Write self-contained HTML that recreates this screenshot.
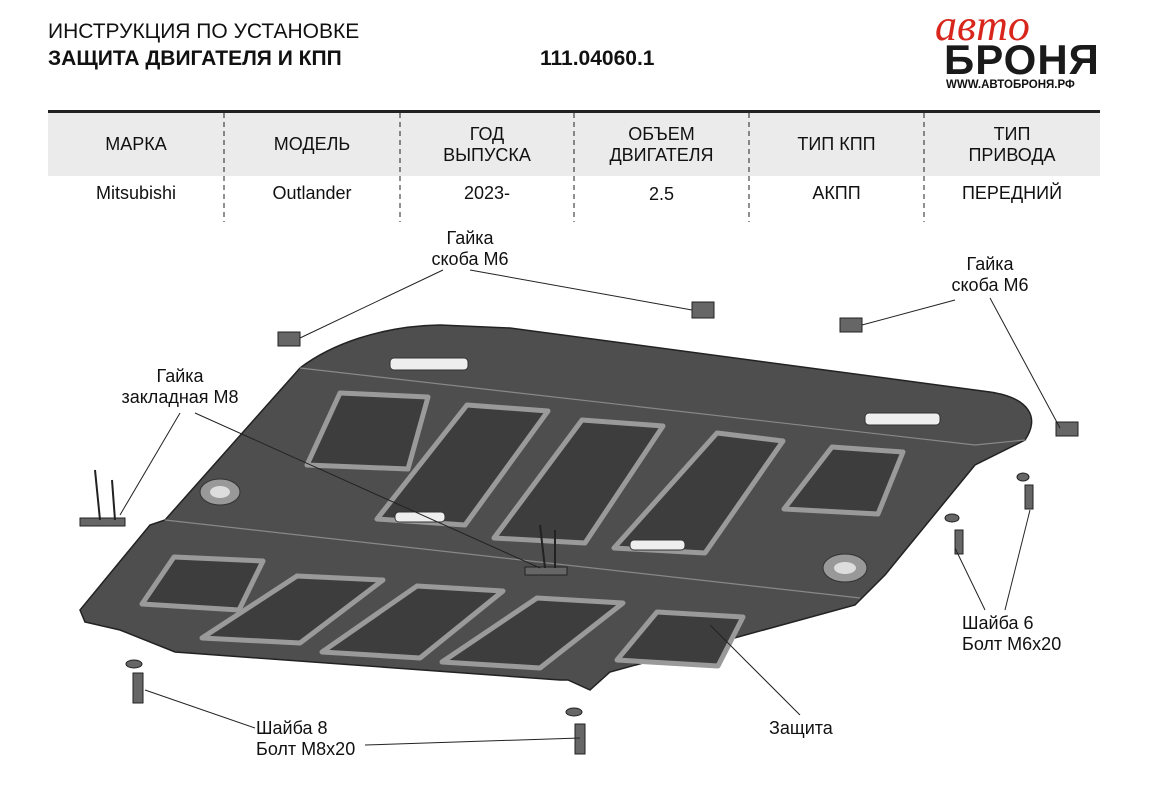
<!DOCTYPE html>
<html><head><meta charset="utf-8"><style>
body{margin:0;width:1151px;height:790px;background:#fff;font-family:"Liberation Sans","DejaVu Sans",sans-serif;position:relative;overflow:hidden}
.t{position:absolute;white-space:nowrap;color:#111}
.c{position:absolute;text-align:center;font-size:18px;line-height:21px;color:#111}
</style></head><body>
<div class="t" style="left:48px;top:20px;font-size:21px">ИНСТРУКЦИЯ ПО УСТАНОВКЕ</div>
<div class="t" style="left:48px;top:47px;font-size:21px;font-weight:bold">ЗАЩИТА ДВИГАТЕЛЯ И КПП</div>
<div class="t" style="left:540px;top:47px;font-size:21px;font-weight:bold">111.04060.1</div>
<div class="t" style="left:935px;top:0px;font-size:44px;color:#d9261c;font-family:'Liberation Serif',serif;font-style:italic">авто</div>
<div class="t" style="left:944px;top:36px;font-size:42px;font-weight:bold;letter-spacing:1px;color:#1a1a1a">БРОНЯ</div>
<div class="t" style="left:946px;top:79px;font-size:11.5px;font-weight:bold">WWW.АВТОБРОНЯ.РФ</div>
<div style="position:absolute;left:48px;top:110px;width:1052px;height:3px;background:#222"></div>
<div style="position:absolute;left:48px;top:113px;width:1052px;height:63px;background:#ebebeb"></div>
<svg style="position:absolute;left:0;top:0" width="1151" height="790">
<g stroke="#222" stroke-width="1" stroke-dasharray="5,4">
<line x1="224" y1="113" x2="224" y2="222"/><line x1="400" y1="113" x2="400" y2="222"/><line x1="574" y1="113" x2="574" y2="222"/><line x1="749" y1="113" x2="749" y2="222"/><line x1="924" y1="113" x2="924" y2="222"/></g>
<path d="M300,368 C330,345 380,326 440,325 L510,328 L990,392 C1030,398 1040,418 1025,440 L975,465 L885,575 L855,605 L610,672 L590,690 L568,680 L560,680 L175,652 L120,630 L85,622 L80,610 L150,525 L165,520 Z" fill="#4e4e4e" stroke="#222" stroke-width="1.5"/>
<path d="M300,368 L975,445 L1025,440" stroke="#888" stroke-width="1.2" fill="none"/>
<path d="M165,520 L860,598" stroke="#888" stroke-width="1.2" fill="none"/>
<g fill="#3d3d3d" stroke="#9a9a9a" stroke-width="5" stroke-linejoin="round">
<path d="M340,393 L428,397 L408,469 L307,465 Z"/>
<path d="M467,405 L548,411 L465,525 L377,519 Z"/>
<path d="M582,420 L663,426 L585,543 L494,538 Z"/>
<path d="M717,433 L783,441 L705,553 L614,548 Z"/>
<path d="M832,447 L903,452 L878,514 L784,509 Z"/>
<path d="M174,557 L263,561 L239,610 L142,604 Z"/>
<path d="M297,576 L383,580 L300,643 L202,638 Z"/>
<path d="M417,586 L503,591 L420,658 L322,652 Z"/>
<path d="M537,598 L623,603 L540,668 L442,662 Z"/>
<path d="M657,612 L743,617 L718,666 L617,660 Z"/>
</g>
<g fill="#eee" stroke="#333"><rect x="390" y="358" width="78" height="12" rx="4"/><rect x="865" y="413" width="75" height="12" rx="4"/><rect x="395" y="512" width="50" height="10" rx="4"/><rect x="630" y="540" width="55" height="10" rx="4"/></g>
<g fill="#999" stroke="#333"><ellipse cx="220" cy="492" rx="20" ry="13"/><ellipse cx="845" cy="568" rx="22" ry="14"/></g>
<g fill="#ddd"><ellipse cx="220" cy="492" rx="10" ry="6"/><ellipse cx="845" cy="568" rx="11" ry="6"/></g>
<g fill="#666" stroke="#222">
<rect x="278" y="332" width="22" height="14"/><rect x="692" y="302" width="22" height="16"/><rect x="840" y="318" width="22" height="14"/><rect x="1056" y="422" width="22" height="14"/>
<rect x="80" y="518" width="45" height="8"/><rect x="525" y="567" width="42" height="8"/>
<ellipse cx="134" cy="664" rx="8" ry="4"/><rect x="133" y="673" width="10" height="30"/>
<ellipse cx="574" cy="712" rx="8" ry="4"/><rect x="575" y="724" width="10" height="30"/>
<ellipse cx="952" cy="518" rx="7" ry="4"/><rect x="955" y="530" width="8" height="24"/>
<ellipse cx="1023" cy="477" rx="6" ry="4"/><rect x="1025" y="485" width="8" height="24"/>
</g>
<g stroke="#222" stroke-width="2"><line x1="95" y1="470" x2="100" y2="520"/><line x1="112" y1="480" x2="115" y2="520"/><line x1="540" y1="525" x2="545" y2="568"/><line x1="555" y1="530" x2="555" y2="568"/></g>
<g stroke="#222" stroke-width="1" fill="none">
<line x1="443" y1="270" x2="300" y2="338"/><line x1="470" y1="270" x2="692" y2="310"/>
<line x1="955" y1="300" x2="862" y2="325"/><line x1="990" y1="298" x2="1060" y2="428"/>
<line x1="180" y1="413" x2="120" y2="515"/><line x1="195" y1="413" x2="540" y2="568"/>
<line x1="955" y1="548" x2="985" y2="610"/><line x1="1030" y1="510" x2="1005" y2="610"/>
<line x1="145" y1="690" x2="255" y2="728"/><line x1="580" y1="738" x2="365" y2="745"/>
<line x1="710" y1="625" x2="800" y2="715"/>
</g>
</svg>
<div class="c" style="left:48px;top:134px;width:176px">МАРКА</div>
<div class="c" style="left:224px;top:134px;width:176px">МОДЕЛЬ</div>
<div class="c" style="left:400px;top:124px;width:174px">ГОД<br>ВЫПУСКА</div>
<div class="c" style="left:574px;top:124px;width:175px">ОБЪЕМ<br>ДВИГАТЕЛЯ</div>
<div class="c" style="left:749px;top:134px;width:175px">ТИП КПП</div>
<div class="c" style="left:924px;top:124px;width:176px">ТИП<br>ПРИВОДА</div>
<div class="c" style="left:48px;top:183px;width:176px">Mitsubishi</div>
<div class="c" style="left:224px;top:183px;width:176px">Outlander</div>
<div class="c" style="left:400px;top:183px;width:174px">2023-</div>
<div class="c" style="left:574px;top:184px;width:175px">2.5</div>
<div class="c" style="left:749px;top:183px;width:175px">АКПП</div>
<div class="c" style="left:924px;top:183px;width:176px">ПЕРЕДНИЙ</div>
<div class="c" style="left:400px;top:228px;width:140px">Гайка<br>скоба М6</div>
<div class="c" style="left:920px;top:254px;width:140px">Гайка<br>скоба М6</div>
<div class="c" style="left:110px;top:366px;width:140px">Гайка<br>закладная М8</div>
<div class="t" style="left:962px;top:613px;font-size:18px;line-height:21px">Шайба 6<br>Болт М6х20</div>
<div class="t" style="left:256px;top:718px;font-size:18px;line-height:21px">Шайба 8<br>Болт М8х20</div>
<div class="t" style="left:769px;top:718px;font-size:18px">Защита</div>
</body></html>
